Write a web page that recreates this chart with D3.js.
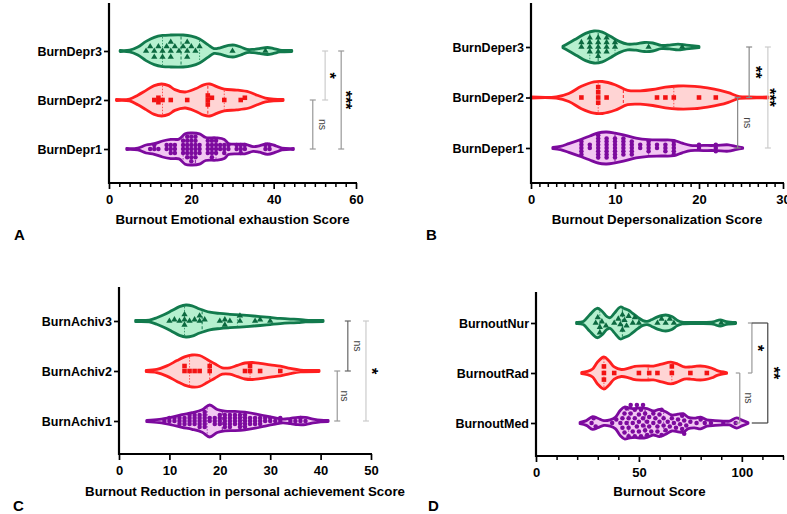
<!DOCTYPE html>
<html><head><meta charset="utf-8">
<script src="https://cdn.jsdelivr.net/npm/d3@7"></script>
<style>body{margin:0;background:#fff}svg{display:block}text{font-family:"Liberation Sans",Arial,sans-serif}</style>
</head><body><svg id="c" width="787" height="514"></svg>
<script>
// ================= DATA =================
// Panel A
const catsA = ["BurnDepr3","BurnDepr2","BurnDepr1"];
const ticksA = [0,20,40,60];
const titleA = "Burnout Emotional exhaustion Score";
const densA3 = [[2.7,0.03],[5,0.05],[7,0.25],[9,0.6],[11,0.85],[13,0.97],[15,1],[18,1],[20,0.93],[22,0.75],[24,0.4],[25.5,0.15],[27,0.2],[29,0.35],[30.5,0.37],[32,0.25],[33.5,0.1],[35,0.1],[36.5,0.15],[38.5,0.22],[40,0.15],[41.5,0.06],[44.4,0.03]];
const densA2 = [[1.8,0.03],[5,0.06],[7,0.3],[9,0.6],[11,0.9],[12.8,1],[14.5,0.9],[16,0.65],[18.5,0.5],[21,0.7],[23,0.95],[24.5,1],[26,0.85],[28,0.68],[31,0.62],[34,0.5],[36,0.3],[38,0.12],[40,0.05],[42.3,0.03]];
const densA1 = [[4.3,0.03],[7,0.06],[9,0.25],[11,0.33],[13,0.5],[15,0.6],[17,0.62],[18.5,0.95],[20,1],[22,0.95],[23.5,0.72],[26,0.7],[28,0.6],[29,0.35],[31,0.3],[33,0.3],[35,0.15],[36.5,0.2],[38.5,0.33],[40.5,0.2],[42,0.06],[44.8,0.03]];
const ptsA3 = [9,10,11,11,12,13,13,14,15,15,15,16,17,18,19,19,19,20,21,22,30,38];
const ptsA2 = [11,12,12,13,15,19,24,24,24,25,28,32,33];
const ptsA1 = [10,11,11,12,14,14,15,15,15,16,16,16,18,18,18,18,19,19,19,19,19,19,20,20,20,20,20,20,20,21,21,21,21,21,21,22,22,22,24,24,24,24,25,25,25,25,25,26,26,26,26,27,27,28,28,28,29,29,31,31,32,32,32,33,33,38,38,39,39];
const quartA3 = [13,17.5,22];
const quartA2 = [13,24,28];
const quartA1 = [18,21,26];
const sigA = [["BurnDepr1","BurnDepr2","ns"],["BurnDepr2","BurnDepr3","*"],["BurnDepr1","BurnDepr3","***"]];

// Panel B
const catsB = ["BurnDeper3","BurnDeper2","BurnDeper1"];
const ticksB = [0,10,20,30];
const titleB = "Burnout Depersonalization Score";
const densB3 = [[3.8,0.05],[4.5,0.25],[5.5,0.55],[6.5,0.85],[7.5,1],[8.5,0.93],[9.5,0.65],[10.5,0.35],[11.5,0.18],[12.5,0.2],[13.5,0.28],[14.5,0.25],[15.5,0.1],[16.5,0.12],[17.5,0.18],[18.5,0.12],[20,0.04]];
const densB2 = [[0,0.03],[3,0.04],[4.5,0.25],[6,0.7],[7.5,0.98],[8.5,1],[10,0.8],[11.5,0.45],[13,0.42],[14.5,0.5],[16,0.65],[17.5,0.72],[19.5,0.7],[21,0.6],[22.5,0.45],[23.5,0.3],[24.8,0.06],[26,0.03],[28.2,0.03]];
const densB1 = [[2.6,0.04],[3.5,0.1],[4.5,0.27],[6,0.55],[7,0.75],[8,0.95],[9,1],[10,0.93],[11,0.82],[12.5,0.62],[14,0.52],[15.5,0.5],[17,0.48],[18,0.3],[19,0.16],[20.5,0.16],[22,0.16],[23.5,0.2],[24.5,0.08],[25.2,0.03]];
const ptsB3 = [6,6,7,7,7,7,8,8,8,8,8,9,9,9,9,10,10,14,18];
const ptsB2 = [6,8,8,8,8,9,15,16,17,20,22];
const ptsB1 = [6,6,6,6,6,7,7,8,8,8,8,8,8,8,8,9,9,9,9,9,9,9,10,10,10,10,10,10,10,11,11,11,11,11,11,12,12,12,12,12,13,13,14,14,14,14,15,15,16,16,16,17,17,17,17,17,20,20,22,22,22];
const quartB3 = [7,8,10];
const quartB2 = [8,11,17];
const quartB1 = [8,10,14];
const sigB = [["BurnDeper1","BurnDeper2","ns"],["BurnDeper2","BurnDeper3","**"],["BurnDeper1","BurnDeper3","***"]];

// Panel C
const catsC = ["BurnAchiv3","BurnAchiv2","BurnAchiv1"];
const ticksC = [0,10,20,30,40,50];
const titleC = "Burnout Reduction in personal achievement Score";
const densC3 = [[3.3,0.04],[6,0.06],[7.5,0.2],[9,0.4],[10.5,0.65],[12,0.9],[13.3,1],[14.5,0.95],[16,0.75],[18,0.55],[20,0.47],[22,0.42],[24,0.38],[26,0.33],[28,0.28],[30,0.22],[32,0.16],[34,0.12],[35.5,0.1],[37,0.06],[40.5,0.03]];
const densC2 = [[5.4,0.04],[7.5,0.1],[9.5,0.32],[11.5,0.65],[13,0.88],[14.5,1],[16,0.97],[17.5,0.72],[19,0.45],[20.5,0.2],[22,0.2],[23.5,0.35],[25,0.5],[26.5,0.53],[28,0.48],[30,0.38],[32,0.3],[34,0.16],[36,0.06],[39.7,0.03]];
const densC1 = [[5.5,0.04],[8,0.1],[10.5,0.25],[12.5,0.4],[14.5,0.52],[16.5,0.7],[18,1],[19.5,0.72],[21,0.62],[23,0.6],[25,0.55],[27,0.45],[29,0.32],[31,0.2],[32.5,0.12],[34,0.17],[35.5,0.23],[37,0.22],[38.5,0.12],[40,0.05],[41.5,0.03]];
const ptsC3 = [10,11,12,13,13,13,14,15,16,16,17,20,21,21,22,24,24,27,28,30];
const ptsC2 = [13,13,14,15,16,18,18,25,26,26,28,32];
const ptsC1 = [9,10,10,11,11,12,12,12,13,13,13,14,14,14,14,15,15,15,15,16,16,16,16,16,17,17,17,17,17,17,18,18,19,19,19,20,20,20,20,21,21,21,21,21,22,22,22,22,22,23,23,23,23,24,24,24,24,24,25,25,25,25,25,26,26,26,27,27,27,28,28,28,29,29,30,30,31,32,32,34,35,36,36,37];
const quartC3 = [13,16.5,23.5];
const quartC2 = [14,18,26];
const quartC1 = [17.5,20.5,24.5];
const sigC = [["BurnAchiv1","BurnAchiv2","ns"],["BurnAchiv2","BurnAchiv3","ns"],["BurnAchiv1","BurnAchiv3","*"]];

// Panel D
const catsD = ["BurnoutNur","BurnoutRad","BurnoutMed"];
const ticksD = [0,50,100];
const titleD = "Burnout Score";
const densD3 = [[19.7,0.04],[23,0.1],[26,0.5],[29.7,0.92],[32,0.75],[34.5,0.4],[36,0.33],[38,0.6],[41,1],[43,0.9],[45,0.8],[47,0.6],[49.5,0.35],[52,0.15],[54,0.1],[56,0.2],[59,0.38],[63,0.5],[66,0.4],[68.5,0.18],[71,0.06],[80,0.04],[86,0.07],[89.5,0.2],[92.5,0.08],[97,0.03]];
const densD2 = [[22.2,0.04],[25,0.1],[27.5,0.25],[30,0.7],[33,1],[35.5,0.75],[38,0.38],[41.5,0.22],[45,0.3],[48,0.42],[53,0.45],[57,0.43],[61,0.55],[65.5,0.68],[69,0.55],[72,0.38],[75,0.38],[78,0.43],[82,0.42],[85.5,0.3],[88,0.15],[92.6,0.03]];
const densD1 = [[21.4,0.04],[24.5,0.15],[27.5,0.4],[30,0.3],[33,0.15],[36,0.2],[38.5,0.35],[41,0.8],[43,1],[45,0.95],[48,0.9],[51,0.95],[54,0.9],[57,0.75],[60,0.85],[63,0.7],[66,0.5],[69,0.55],[71.5,0.58],[74,0.35],[77,0.3],[80,0.37],[83,0.2],[87,0.15],[91,0.12],[94,0.12],[97.5,0.32],[100,0.18],[103,0.03]];
const ptsD3 = [29,30,31,31,32,34,38,40,41,42,42,43,44,45,47,48,50,59,61,63,65,67,90];
const ptsD2 = [33,33,33,38,50,55,59,66,66,75,83];
const ptsD1 = [27,28,29,37,39,41,42,42,43,43,44,44,45,45,45,46,46,47,47,48,48,48,49,49,50,50,50,51,51,52,52,52,53,53,54,54,55,55,56,57,57,58,59,59,60,60,61,61,62,62,63,64,65,66,67,68,69,70,71,71,72,72,73,75,78,80,82,85,91,97];
const quartD3 = [31,42,50];
const quartD2 = [33,54.5,66];
const quartD1 = [45,53,62];
const sigD = [["BurnoutMed","BurnoutRad","ns"],["BurnoutRad","BurnoutNur","*"],["BurnoutMed","BurnoutNur","**"]];

// ================= STYLES / LAYOUT =================
const styles = {
  green:{stroke:"#127a4d", fill:"#b6f0cf", pt:"#0c6a40", shape:d3.symbolTriangle, size:17},
  red:{stroke:"#ff1f1f", fill:"#ffd4d4", pt:"#f21212", shape:d3.symbolSquare, size:21},
  purple:{stroke:"#7c0a9e", fill:"#f2c8f2", pt:"#7c0a9e", shape:d3.symbolCircle, size:16}
};
const colorOrder = ["green","red","purple"];

const panels = [
  {cats:catsA, ticks:ticksA, title:titleA, letter:"A", domain:[0,60], x0:109, x1:356, yTop:3, axisY:183, cTop:51, cBot:149, minor:2.5, titleY:219, letterPos:[14,234],
   groups:[[densA3,ptsA3,quartA3,6],[densA2,ptsA2,quartA2,4.5],[densA1,ptsA1,quartA1,4.1]], sig:sigA,
   br:[{xv:49.5,c:"#999",dx:10},{xv:52.5,c:"#ccc",dx:9},{xv:56.4,c:"#999",dx:9}]},
  {cats:catsB, ticks:ticksB, title:titleB, letter:"B", domain:[0,30], x0:531, x1:783, yTop:3, axisY:183, cTop:47, cBot:148, minor:1, titleY:219, letterPos:[426,234],
   groups:[[densB3,ptsB3,quartB3,4.6],[densB2,ptsB2,quartB2,5.2],[densB1,ptsB1,quartB1,3.2]], sig:sigB,
   br:[{xv:24.6,c:"#888",dx:10},{xv:25.97,c:"#888",dx:11},{xv:28.2,c:"#ccc",dx:6}]},
  {cats:catsC, ticks:ticksC, title:titleC, letter:"C", domain:[0,50], x0:119, x1:371, yTop:287, axisY:454, cTop:321, cBot:421, minor:0, titleY:491, letterPos:[13,505],
   groups:[[densC3,ptsC3,quartC3,5.2],[densC2,ptsC2,quartC2,5],[densC1,ptsC1,quartC1,3]], sig:sigC,
   br:[{xv:43.3,c:"#999",dx:8},{xv:45.4,c:"#666",dx:10},{xv:49.0,c:"#ccc",dx:10}]},
  {cats:catsD, ticks:ticksD, title:titleD, letter:"D", domain:[0,120], x0:536, x1:783, yTop:292, axisY:456, cTop:323, cBot:423, minor:10, titleY:491, letterPos:[428,505],
   groups:[[densD3,ptsD3,quartD3,5.5],[densD2,ptsD2,quartD2,6.6],[densD1,ptsD1,quartD1,4.8]], sig:sigD,
   br:[{xv:99,c:"#999",dx:9,capL:4},{xv:104.9,c:"#999",dx:10,capL:4},{xv:112.6,c:"#444",dx:10,capL:16}]}
];

const svg = d3.select("#c");

function swarm(vals, x, diam){
  const step = diam/4, placed=[], out=[];
  vals.slice().sort((a,b)=>a-b).forEach(v=>{
    const px = x(v);
    for(let k=0;k<400;k++){
      const off = k===0 ? 0 : (k%2 ? -Math.ceil(k/2) : Math.ceil(k/2))*step;
      let ok = true;
      for(const p of placed){ const dx=p[0]-px, dy=p[1]-off; if(dx*dx+dy*dy < diam*diam-0.01){ok=false;break;} }
      if(ok){ placed.push([px,off]); out.push({v,off}); break; }
    }
  });
  return out;
}
function interp(dens, v){
  if(v<=dens[0][0]) return dens[0][1];
  for(let i=1;i<dens.length;i++){
    if(v<=dens[i][0]){ const a=dens[i-1], b=dens[i]; return a[1]+(b[1]-a[1])*(v-a[0])/(b[0]-a[0]); }
  }
  return dens[dens.length-1][1];
}

function drawPanel(p){
  const g = svg.append("g");
  const x = d3.scaleLinear().domain(p.domain).range([p.x0,p.x1]);
  const y = d3.scalePoint().domain(p.cats).range([p.cTop,p.cBot]);
  const w = d3.scaleLinear().domain([0,1]).range([0,16]);

  p.groups.forEach((gr,i)=>{
    const [dens, pts, quart, diam] = gr;
    const st = styles[colorOrder[i]];
    const cy = y(p.cats[i]);
    const area = d3.area().curve(d3.curveCatmullRom.alpha(0.5))
      .x(d=>x(d[0])).y0(d=>cy-w(d[1])).y1(d=>cy+w(d[1]));
    g.append("path").attr("d",area(dens)).attr("fill",st.fill)
      .attr("stroke",st.stroke).attr("stroke-width",2.8).attr("stroke-linejoin","round");
    quart.forEach((q,j)=>{
      const hw = Math.max(0,w(interp(dens,q))-1.5);
      g.append("line").attr("x1",x(q)).attr("x2",x(q)).attr("y1",cy-hw).attr("y2",cy+hw)
        .attr("stroke",st.stroke).attr("stroke-width",j===1?1.2:0.9)
        .attr("stroke-dasharray",j===1?"3,2":"1.5,1.5").attr("opacity",0.8);
    });
    const sym = d3.symbol().type(st.shape).size(st.size);
    g.append("g").selectAll("path").data(swarm(pts,x,diam)).join("path")
      .attr("transform",d=>`translate(${x(d.v)},${cy+d.off})`)
      .attr("d",sym).attr("fill",st.pt);
  });

  // significance brackets
  p.sig.forEach((s,k)=>{
    const b = p.br[k];
    const xv = x(b.xv), ya = y(s[0]), yb = y(s[1]);
    const capL = b.capL||3, capR = 3;
    const bg = g.append("g").attr("stroke",b.c).attr("stroke-width",1.2);
    bg.append("line").attr("x1",xv).attr("x2",xv).attr("y1",ya).attr("y2",yb);
    [ya,yb].forEach(yy=>bg.append("line").attr("x1",xv-capL).attr("x2",xv+(b.capL?0:capR)).attr("y1",yy).attr("y2",yy));
    const isNs = s[2]==="ns";
    g.append("text").attr("transform",`translate(${xv+b.dx},${(ya+yb)/2}) rotate(90)`)
      .attr("text-anchor","middle").attr("dominant-baseline",isNs?"central":"middle")
      .attr("dy",isNs?0:"0.35em")
      .attr("font-size",isNs?10.5:16).attr("font-weight",isNs?"normal":"bold")
      .attr("fill",isNs?"#444":"#000").text(s[2]);
  });

  // axes
  const ax = g.append("g").attr("transform",`translate(0,${p.axisY})`)
    .call(d3.axisBottom(x).tickValues(p.ticks).tickSize(6).tickPadding(6).tickFormat(d3.format("d")));
  ax.select(".domain").remove();
  ax.selectAll("line").attr("stroke","#000").attr("stroke-width",1.7);
  ax.selectAll("text").attr("font-size",13).attr("font-weight","bold").attr("fill","#000");
  if(p.minor){
    const mv = d3.range(p.domain[0], p.domain[1]+1e-9, p.minor).filter(v=>!p.ticks.includes(v));
    const mx = g.append("g").attr("transform",`translate(0,${p.axisY})`)
      .call(d3.axisBottom(x).tickValues(mv).tickSize(4).tickFormat(""));
    mx.select(".domain").remove();
    mx.selectAll("line").attr("stroke","#000").attr("stroke-width",1.5);
  }
  g.append("line").attr("x1",p.x0-1).attr("x2",p.x1+1).attr("y1",p.axisY).attr("y2",p.axisY).attr("stroke","#000").attr("stroke-width",2.2);
  const ay = g.append("g").attr("transform",`translate(${p.x0},0)`)
    .call(d3.axisLeft(y).tickSize(5).tickPadding(2));
  ay.select(".domain").remove();
  ay.selectAll("line").attr("stroke","#000").attr("stroke-width",1.7);
  ay.selectAll("text").attr("font-size",12.5).attr("font-weight","bold").attr("fill","#000");
  g.append("line").attr("x1",p.x0).attr("x2",p.x0).attr("y1",p.yTop).attr("y2",p.axisY+1).attr("stroke","#000").attr("stroke-width",2.2);

  g.append("text").attr("x",(p.x0+p.x1)/2).attr("y",p.titleY).attr("text-anchor","middle")
    .attr("dominant-baseline","central").attr("font-size",13.3).attr("font-weight","bold").text(p.title);
  g.append("text").attr("x",p.letterPos[0]).attr("y",p.letterPos[1]).attr("dominant-baseline","central")
    .attr("font-size",15).attr("font-weight","bold").text(p.letter);
}
panels.forEach(drawPanel);
</script></body></html>
